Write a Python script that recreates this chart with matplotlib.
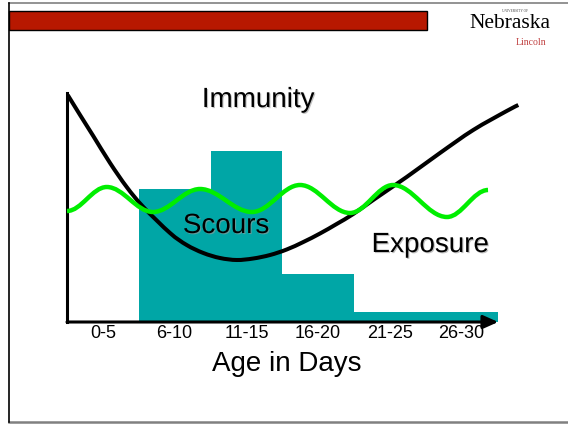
import numpy as np
import matplotlib
matplotlib.use("Agg")
import matplotlib.pyplot as plt  # noqa: E402
from matplotlib.path import Path  # noqa: E402
from matplotlib.patches import PathPatch, Rectangle  # noqa: E402
import matplotlib.patheffects as pe  # noqa: E402

plt.rcParams["font.family"] = ["Liberation Sans", "DejaVu Sans"]

# scours cases per age group (arbitrary units)
age_groups = ["0-5", "6-10", "11-15", "16-20", "21-25", "26-30"]
bin_edges = [0, 5, 10, 15, 20, 25, 30]
scours = [0, 133, 171, 48, 10, 10]

# immunity curve (day, level)
immunity_day = [0.05, 0.91, 1.83, 3.0, 4.16, 5.32, 7.18, 8.34, 9.5, 10.66,
                11.83, 12.98, 14.15, 15.31, 16.47, 17.63, 18.79, 19.95,
                21.34, 23.67, 25.99, 28.31, 30.64, 31.45]
immunity_level = [227, 207, 186, 159, 135, 115, 89, 77, 69, 64,
                  62, 63.5, 67, 72.5, 80, 88.5, 98, 108,
                  122, 145, 169, 192, 211, 217]

# exposure wave: peaks and troughs (day, level)
exposure_day = [0.0, 2.77, 5.99, 9.27, 12.89, 16.24, 19.72, 22.72, 26.48, 29.34]
exposure_level = [111, 135, 110, 133, 110, 137, 109, 137, 105, 132]

W, H = 568, 424
PX_PER_DAY = 14.35
X0, Y0, YTOP, XRIGHT = 67, 322, 93, 522


def catmull_rom(xs, ys):
    p = np.column_stack([xs, ys]).astype(float)
    q = np.vstack([p[0], p, p[-1]])
    verts, codes = [p[0]], [Path.MOVETO]
    for i in range(len(p) - 1):
        p0, p1, p2, p3 = q[i], q[i + 1], q[i + 2], q[i + 3]
        verts += [p1 + (p2 - p0) / 6, p2 - (p3 - p1) / 6, p2]
        codes += [Path.CURVE4] * 3
    return Path(verts, codes)


def wave(xs, ys):
    verts, codes = [(xs[0], ys[0])], [Path.MOVETO]
    for i in range(len(xs) - 1):
        dx = xs[i + 1] - xs[i]
        verts += [(xs[i] + 0.36 * dx, ys[i]), (xs[i + 1] - 0.36 * dx, ys[i + 1]),
                  (xs[i + 1], ys[i + 1])]
        codes += [Path.CURVE4] * 3
    return Path(verts, codes)


fig = plt.figure(figsize=(W / 100, H / 100), dpi=100)

# slide decoration in pixel coords
bg = fig.add_axes([0, 0, 1, 1])
bg.set_xlim(0, W)
bg.set_ylim(H, 0)
bg.axis("off")
bg.plot([9, W], [3, 3], color="#808080", lw=1.2)
bg.plot([9, W], [422, 422], color="#808080", lw=1.8)
bg.plot([9, 9], [3, 422], color="black", lw=1.2)
bg.add_patch(Rectangle((9, 11), 418, 19, fc="#B71800", ec="black", lw=1))
bg.text(510, 27.5, "Nebraska", family="Liberation Serif", fontsize=15.5,
        ha="center", va="baseline", color="black")
bg.text(515, 11, "UNIVERSITY OF", family="Liberation Serif", fontsize=2.5,
        ha="center", va="center", color="#444444")
bg.text(531, 45, "Lincoln", family="Liberation Serif", fontsize=7,
        ha="center", va="baseline", color="#c04040")

ax = fig.add_axes([X0 / W, (H - Y0) / H, (XRIGHT - X0) / W, (Y0 - YTOP) / H])
ax.patch.set_alpha(0)
ax.set_xlim(0, (XRIGHT - X0) / PX_PER_DAY)
ax.set_ylim(0, Y0 - YTOP)
for s in ["top", "right", "bottom"]:
    ax.spines[s].set_visible(False)
ax.spines["left"].set_linewidth(2.2)

ax.bar(bin_edges[:-1], scours, width=np.diff(bin_edges), align="edge",
       color="#00A6A6", zorder=1)

ax.add_patch(PathPatch(catmull_rom(immunity_day, immunity_level), fill=False,
                       ec="black", lw=2.9, zorder=3, clip_on=False))
ax.add_patch(PathPatch(wave(exposure_day, exposure_level), fill=False,
                       ec="#00EE00", lw=3.2, zorder=4, clip_on=False))

ax.annotate("", xy=(bin_edges[-1] + 0.05, 0), xytext=(0, 0),
            arrowprops=dict(arrowstyle="-|>,head_length=0.9,head_width=0.4",
                            lw=2.2, color="black", shrinkA=0, shrinkB=0),
            annotation_clip=False, zorder=5)

centers = [(a + b) / 2 for a, b in zip(bin_edges[:-1], bin_edges[1:])]
ax.set_xticks(centers, age_groups)
ax.tick_params(axis="x", length=0, pad=2, labelsize=13)
ax.set_yticks([])

shadow = [pe.SimplePatchShadow(offset=(0.8, -0.8), shadow_rgbFace="#999999",
                               alpha=0.6), pe.Normal()]
ax.text(13.31, 215, "Immunity", fontsize=20, ha="center", va="baseline",
        path_effects=shadow, zorder=6)
ax.text(11.08, 89, "Scours", fontsize=20, ha="center", va="baseline",
        path_effects=shadow, zorder=6)
ax.text(25.3, 70, "Exposure", fontsize=20, ha="center", va="baseline",
        path_effects=shadow, zorder=6)
ax.text(15.33, -49, "Age in Days", fontsize=20, ha="center", va="baseline",
        zorder=6)

fig.savefig("out.png", dpi=100)
